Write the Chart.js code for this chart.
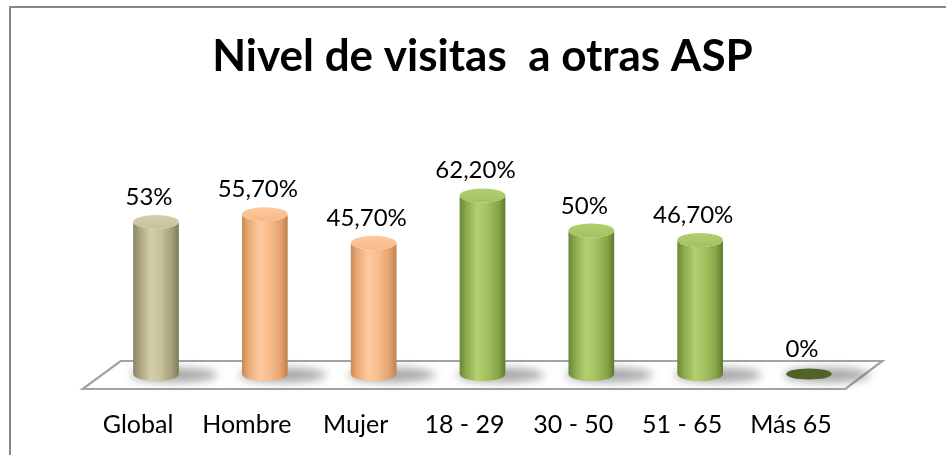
<!DOCTYPE html>
<html>
<head>
<meta charset="utf-8">
<script src="https://cdn.jsdelivr.net/npm/chart.js@4.4.1/dist/chart.umd.min.js"></script>
<style>
html,body{margin:0;padding:0;background:#fff;}
canvas{display:block;}
</style>
</head>
<body>
<canvas id="c" width="946" height="455"></canvas>
<script>
const categories = ['Global', 'Hombre', 'Mujer', '18 - 29', '30 - 50', '51 - 65', 'Más 65'];
const values = [53, 55.7, 45.7, 62.2, 50, 46.7, 0];
const valueLabels = ['53%', '55,70%', '45,70%', '62,20%', '50%', '46,70%', '0%'];
const titleText = 'Nivel de visitas  a otras ASP';

const palettes = {
  khaki: {stops: ['#8a8562', '#a9a47f', '#d3cea8', '#c9c39c', '#a39e78', '#7f7a58'], top: '#c7c19b', zero: '#8a8562'},
  peach: {stops: ['#c98a55', '#eaa874', '#fdcaa0', '#f8bd8d', '#e4a26d', '#bd8050'], top: '#f7b987', zero: '#c98a55'},
  green: {stops: ['#6a8636', '#8aa94c', '#b2d06f', '#a3c25f', '#86a447', '#5e792e'], top: '#a3c162', zero: '#4f6228'}
};
const barPalette = ['khaki', 'peach', 'peach', 'green', 'green', 'green', 'green'];

const frame = {
  id: 'frame',
  beforeDraw(chart) {
    const ctx = chart.ctx;
    ctx.save();
    ctx.strokeStyle = '#878787';
    ctx.lineWidth = 2;
    ctx.beginPath();
    ctx.moveTo(10, 455);
    ctx.lineTo(10, 7);
    ctx.lineTo(946, 7);
    ctx.stroke();
    ctx.restore();
  }
};

const floorPlugin = {
  id: 'floor',
  beforeDatasetsDraw(chart) {
    const ctx = chart.ctx;
    const xs = chart.scales.x, ys = chart.scales.y;
    const y0 = ys.getPixelForValue(0);
    const L = xs.left, R = xs.right;
    ctx.save();
    ctx.beginPath();
    ctx.moveTo(L + 19, y0 - 13);
    ctx.lineTo(R + 19, y0 - 13);
    ctx.lineTo(R - 18, y0 + 15);
    ctx.lineTo(L - 19, y0 + 15);
    ctx.closePath();
    ctx.fillStyle = '#ffffff';
    ctx.fill();
    ctx.strokeStyle = '#a3a3a3';
    ctx.lineWidth = 2.2;
    ctx.stroke();
    const meta = chart.getDatasetMeta(0);
    ctx.filter = 'blur(5px)';
    meta.data.forEach((el) => {
      const p = el.getProps(['x', 'y', 'base', 'width'], true);
      ctx.beginPath();
      ctx.ellipse(p.x + 18, p.base + 1, p.width * 0.95, 7, 0, 0, Math.PI * 2);
      ctx.fillStyle = 'rgba(90,90,90,0.55)';
      ctx.fill();
    });
    ctx.filter = 'none';
    ctx.restore();
  }
};

const cylinders = {
  id: 'cylinders',
  afterDatasetsDraw(chart) {
    const ctx = chart.ctx;
    const meta = chart.getDatasetMeta(0);
    meta.data.forEach((el, i) => {
      const p = el.getProps(['x', 'y', 'base', 'width'], true);
      const pal = palettes[barPalette[i]];
      const rx = p.width / 2, ry = 7;
      ctx.save();
      if (p.base - p.y < 1) {
        ctx.beginPath();
        ctx.ellipse(p.x, p.base, rx, ry - 1.5, 0, 0, Math.PI * 2);
        ctx.fillStyle = pal.zero;
        ctx.fill();
        ctx.restore();
        return;
      }
      const g = ctx.createLinearGradient(p.x - rx, 0, p.x + rx, 0);
      const pos = [0, 0.14, 0.38, 0.6, 0.85, 1];
      pal.stops.forEach((c, k) => g.addColorStop(pos[k], c));
      ctx.beginPath();
      ctx.moveTo(p.x - rx, p.y);
      ctx.lineTo(p.x - rx, p.base);
      ctx.ellipse(p.x, p.base, rx, ry, 0, Math.PI, 0, true);
      ctx.lineTo(p.x + rx, p.y);
      ctx.ellipse(p.x, p.y, rx, ry, 0, 0, Math.PI, false);
      ctx.closePath();
      ctx.fillStyle = g;
      ctx.fill();
      const tg = ctx.createLinearGradient(0, p.y - ry, 0, p.y + ry);
      tg.addColorStop(0, pal.stops[2]);
      tg.addColorStop(1, pal.top);
      ctx.beginPath();
      ctx.ellipse(p.x, p.y, rx, ry, 0, 0, Math.PI * 2);
      ctx.fillStyle = tg;
      ctx.fill();
      ctx.restore();
    });
    ctx.save();
    ctx.font = '24px Lato';
    ctx.fillStyle = '#000';
    ctx.textAlign = 'center';
    ctx.textBaseline = 'alphabetic';
    meta.data.forEach((el, i) => {
      const p = el.getProps(['x', 'y'], true);
      ctx.fillText(valueLabels[i], p.x - 7, p.y - 17);
    });
    ctx.restore();
  }
};

new Chart(document.getElementById('c'), {
  type: 'bar',
  data: {
    labels: categories,
    datasets: [{
      data: values,
      backgroundColor: 'rgba(0,0,0,0)',
      borderWidth: 0,
      barPercentage: 0.7,
      categoryPercentage: 0.6
    }]
  },
  options: {
    responsive: false,
    animation: false,
    events: [],
    layout: {padding: {left: 101.6, right: 82.6, top: 0, bottom: 0}},
    plugins: {
      legend: {display: false},
      tooltip: {enabled: false},
      title: {
        display: true,
        text: titleText,
        color: '#000',
        font: {family: 'Lato', size: 44, weight: 'bold'},
        padding: {top: 30.6, bottom: 3.6}
      }
    },
    scales: {
      x: {
        grid: {display: false, drawTicks: false},
        border: {display: false},
        ticks: {color: '#000', font: {family: 'Lato', size: 25}, padding: 36, labelOffset: -18, maxRotation: 0, autoSkip: false},
        afterFit(scale) { scale.height = 81; }
      },
      y: {display: false, min: 0, max: 100}
    }
  },
  plugins: [frame, floorPlugin, cylinders]
});
</script>
</body>
</html>
